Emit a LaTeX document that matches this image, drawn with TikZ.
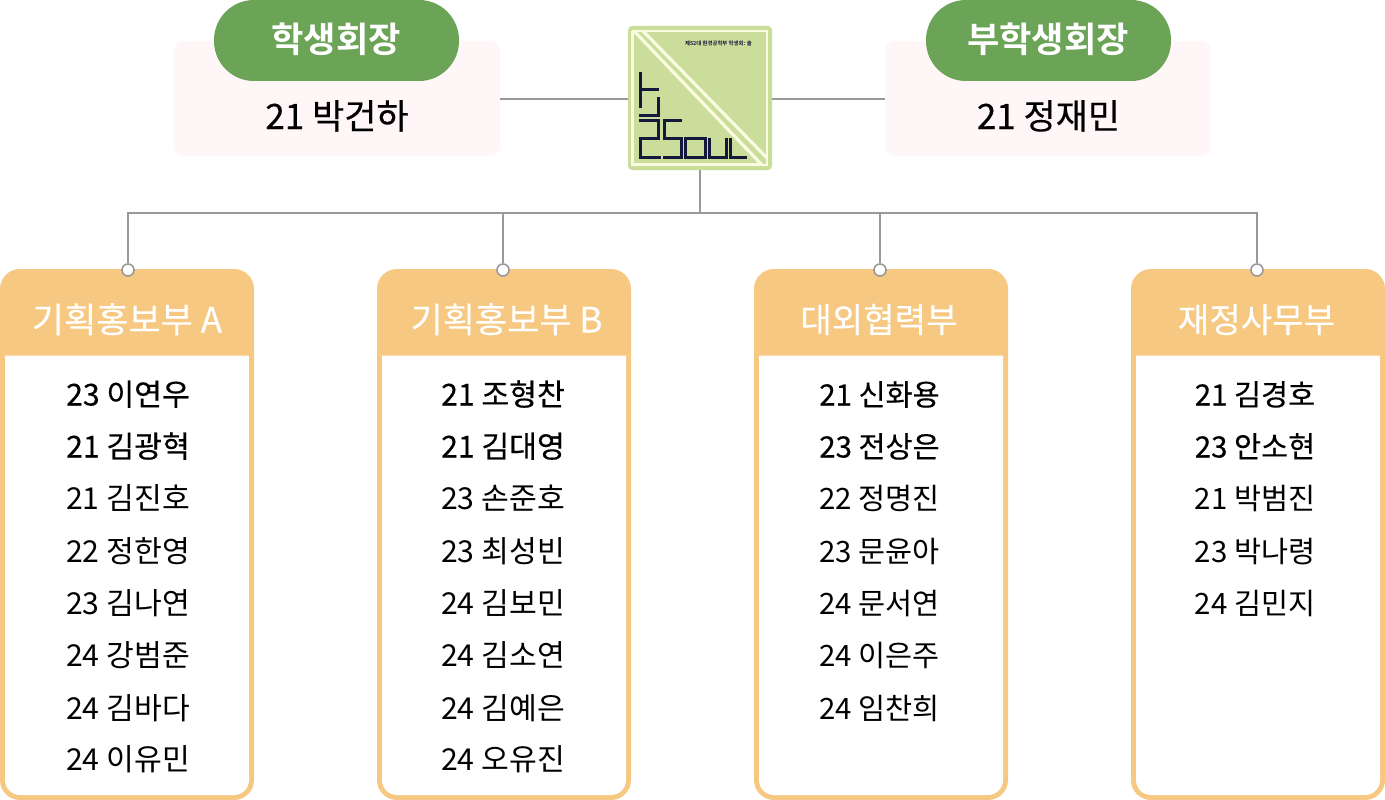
\documentclass[tikz,border=0pt]{standalone}
\usepackage{fontspec}
\setmainfont{Noto Sans CJK KR}
\newfontfamily\medfont{Noto Sans CJK KR}[FakeBold=0.35]
\newfontfamily\lightmedfont{Noto Sans CJK KR}[FakeBold=0.2]
\newfontfamily\boldfont{Noto Sans CJK KR Bold}
\definecolor{linegray}{HTML}{999999}
\definecolor{cardorange}{HTML}{F6C882}
\definecolor{pinkbox}{HTML}{FFF6F7}
\definecolor{pillgreen}{HTML}{6BA357}
\definecolor{logogreen}{HTML}{CBDD9A}
\definecolor{logocream}{HTML}{FBFBE2}
\definecolor{logoink}{HTML}{14183A}
\tikzset{
  x=1pt,y=-1pt,
  conn/.style={draw=linegray,line width=1.8pt},
  pinkpanel/.style={rectangle,fill=pinkbox,rounded corners=10pt,minimum width=326pt,minimum height=115pt,inner sep=0pt},
  pill/.style={rectangle,fill=pillgreen,rounded corners=40pt,minimum width=245pt,minimum height=81pt,inner sep=0pt,text=white},
  pilltext/.style={anchor=base,inner sep=0pt,text=white,font=\fontsize{35.2}{42}\selectfont\boldfont},
  chairname/.style={anchor=base,inner sep=0pt,font=\fontsize{35}{42}\selectfont\medfont},
  cardbox/.style={rectangle,fill=cardorange,rounded corners=20pt,minimum width=254pt,minimum height=531pt,inner sep=0pt},
  cardtitle/.style={anchor=base,inner sep=0pt,text=white,font=\fontsize{35}{42}\selectfont\lightmedfont},
  cardtitlesmall/.style={anchor=base,inner sep=0pt,text=white,font=\fontsize{34.2}{42}\selectfont\lightmedfont},
  plainname/.style={anchor=base,inner sep=0pt,font=\fontsize{30.2}{36}\selectfont},
  strongname/.style={anchor=base,inner sep=0pt,font=\fontsize{30.2}{36}\selectfont\medfont},
  plainnarrow/.style={anchor=base,inner sep=0pt,font=\fontsize{29.4}{36}\selectfont},
  strongnarrow/.style={anchor=base,inner sep=0pt,font=\fontsize{29.4}{36}\selectfont\medfont},
  dot/.style={circle,draw=linegray,fill=white,line width=1.6pt,minimum size=12pt,inner sep=0pt},
  logobox/.style={rectangle,fill=logogreen,rounded corners=4pt,minimum size=144pt,inner sep=0pt},
  logoline/.style={draw=logocream,line width=3.2pt},
  logoglyph/.style={draw=logoink,line width=3pt,miter limit=2},
}
\begin{document}
\begin{tikzpicture}
\useasboundingbox (0,0) rectangle (1385,800);
\fill[white] (0,0) rectangle (1385,800);

% top panels
\node[pinkpanel] (boxl) at (337,98.5) {};
\node[pinkpanel] (boxr) at (1048,98.5) {};
\node[pill] (pilll) at (336.5,40.5) {};
\node[pill] (pillr) at (1048.5,40.5) {};
\node[pilltext] (tl) at (336,53) {학생회장};
\node[pilltext] (tr) at (1048,53) {부학생회장};
\node[chairname] (nl) at (337,129) {21 박건하};
\node[chairname] (nr) at (1048.5,129) {21 정재민};

% logo
\node[logobox] (logo) at (700,98) {};
\draw[logoline,line width=2pt] (632.5,31) rectangle (767,165);
\draw[logoline,line width=3pt] (632,31) -- (632,164) -- (760,164);
\draw[logoline] (634,31) -- (762,165);
\draw[logoline] (643,31) -- (767,158);
\draw[logoglyph] (640,72) -- (640,108);
\draw[logoglyph] (640,90) -- (659,90);
\draw[logoglyph] (658,97) -- (658,115) -- (639,115);
\draw[logoglyph] (639,120) -- (658,120) -- (658,138) -- (640,138) -- (640,157) -- (661,157);
\draw[logoglyph] (682,120) -- (664,120) -- (664,138) -- (681,138) -- (681,157) -- (663,157);
\draw[logoglyph] (685,138) rectangle (705,157);
\draw[logoglyph] (709,138) -- (709,157) -- (726,157) -- (726,138);
\draw[logoglyph] (730,138) -- (730,157) -- (747,157);
\node[anchor=base,inner sep=0pt,text=logoink,font=\fontsize{5.4}{6}\selectfont\boldfont] (logotext) at (718.5,46) {제52대 환경공학부 학생회: 솔};

% cards
\foreach \cx/\nm in {127/a,504/b,881/c,1258/d}{
  \node[cardbox] (card\nm) at (\cx,534.5) {};
  \fill[white] (\cx-122,355.5) -- (\cx+122,355.5) -- (\cx+122,780) arc[start angle=0,end angle=90,radius=15] -- (\cx-107,795) arc[start angle=90,end angle=180,radius=15] -- cycle;
}
\node[cardtitle] (ta) at (127,332.5) {기획홍보부 A};
\node[cardtitle] (tb) at (506.5,332.5) {기획홍보부 B};
\node[cardtitlesmall] (tc) at (879,332.5) {대외협력부};
\node[cardtitlesmall] (td) at (1256.5,332.5) {재정사무부};

\foreach \ypos/\st/\nm/\txt in {
 405.5/strongname/a1/23 이연우, 457.5/strongname/a2/21 김광혁, 509.5/plainname/a3/21 김진호,
 562.5/plainname/a4/22 정한영, 614.5/plainname/a5/23 김나연, 666.5/plainname/a6/24 강범준,
 719.5/plainname/a7/24 김바다, 770.5/plainname/a8/24 이유민}
 {\node[\st] (\nm) at (128,\ypos) {\txt};}
\foreach \ypos/\st/\nm/\txt in {
 405.5/strongname/b1/21 조형찬, 457.5/strongname/b2/21 김대영, 509.5/plainname/b3/23 손준호,
 562.5/plainname/b4/23 최성빈, 614.5/plainname/b5/24 김보민, 666.5/plainname/b6/24 김소연,
 719.5/plainname/b7/24 김예은, 770.5/plainname/b8/24 오유진}
 {\node[\st] (\nm) at (503,\ypos) {\txt};}
\foreach \ypos/\st/\nm/\txt in {
 405.5/strongnarrow/c1/21 신화용, 457.5/strongnarrow/c2/23 전상은, 509.5/plainnarrow/c3/22 정명진,
 562.5/plainnarrow/c4/23 문윤아, 614.5/plainnarrow/c5/24 문서연, 666.5/plainnarrow/c6/24 이은주,
 719.5/plainnarrow/c7/24 임찬희}
 {\node[\st] (\nm) at (879.5,\ypos) {\txt};}
\foreach \ypos/\st/\nm/\txt in {
 405.5/strongnarrow/d1/21 김경호, 457.5/strongnarrow/d2/23 안소현, 509.5/plainnarrow/d3/21 박범진,
 562.5/plainnarrow/d4/23 박나령, 614.5/plainnarrow/d5/24 김민지}
 {\node[\st] (\nm) at (1255,\ypos) {\txt};}

% connectors
\coordinate (bus) at (700,213);
\draw[conn] ([yshift=-1pt]boxl.east |- logo.west) -- ([yshift=-1pt]logo.west);
\draw[conn] ([yshift=-1pt]logo.east) -- ([yshift=-1pt]boxr.west |- logo.east);
\draw[conn] (logo.south) -- (bus);
\node[dot] (da) at (128,270) {};
\node[dot] (db) at (503,270) {};
\node[dot] (dc) at (880,270) {};
\node[dot] (dd) at (1257,270) {};
\draw[conn] (bus) -| (da.north);
\draw[conn] (bus) -| (db.north);
\draw[conn] (bus) -| (dc.north);
\draw[conn] (bus) -| (dd.north);
\end{tikzpicture}
\end{document}
